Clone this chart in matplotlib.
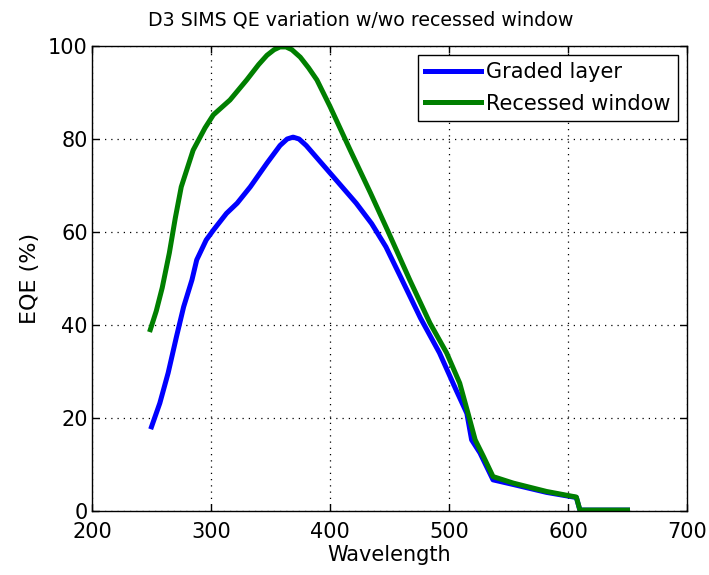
import matplotlib
matplotlib.use("Agg")
import matplotlib.pyplot as plt

plt.rcParams['font.family'] = ['DejaVu Sans']

# 読み取り値（波長 nm / EQE %）
graded_wl = [250, 257, 264, 271, 277, 284, 288, 296, 302, 313, 322, 333, 347, 358,
             364, 369, 374, 380, 400, 422, 435, 447, 459, 476, 492, 506, 515, 519,
             526, 537, 554, 582, 607, 610, 650]
graded_eqe = [18.1, 23.2, 29.7, 37.5, 43.9, 49.7, 54.0, 58.3, 60.4, 64.0, 66.2, 69.7,
              74.8, 78.6, 80.0, 80.4, 80.0, 78.6, 72.7, 66.2, 61.8, 56.8, 50.5, 41.5,
              34.0, 26.0, 21.0, 15.3, 12.5, 6.7, 5.7, 4.0, 2.9, 0.2, 0.2]

recessed_wl = [249, 254, 259, 265, 270, 275, 285, 295, 302, 316, 330, 340, 347, 353,
               358, 363, 368, 375, 382, 389, 400, 417, 434, 449, 467, 484, 498, 509,
               516, 522, 529, 537, 554, 582, 607, 610, 650]
recessed_eqe = [39.0, 43.0, 48.0, 55.5, 63.0, 69.7, 77.6, 82.4, 85.2, 88.4, 92.7, 96.0,
                98.0, 99.2, 99.8, 99.8, 99.2, 97.6, 95.3, 92.7, 87.0, 77.6, 68.4, 60.0,
                49.7, 40.4, 34.0, 27.5, 21.0, 15.3, 11.7, 7.4, 6.0, 4.2, 3.0, 0.2, 0.2]

x_ticks = [200, 300, 400, 500, 600, 700]
y_ticks = [0, 20, 40, 60, 80, 100]

fig = plt.figure(figsize=(7.09, 5.75), dpi=100)
fig.patch.set_facecolor('white')
ax = fig.add_axes([92 / 709, 1 - 511 / 575, 595 / 709, 465 / 575])

ax.plot(graded_wl, graded_eqe, color='#0000ff', linewidth=3.6, label='Graded layer')
ax.plot(recessed_wl, recessed_eqe, color='#007f00', linewidth=3.6, label='Recessed window')

ax.set_xlim(200, 700)
ax.set_ylim(0, 100)
ax.set_xticks(x_ticks)
ax.set_yticks(y_ticks)
ax.tick_params(direction='in', length=5, width=1, top=True, right=True,
               labelsize=15, pad=3)
ax.tick_params(axis='x', pad=8)
ax.grid(True, color='black', linestyle=(0, (1, 4)), linewidth=0.9)
for s in ax.spines.values():
    s.set_linewidth(1.0)

ax.set_xlabel('Wavelength', fontsize=15, labelpad=2)
ax.set_ylabel('EQE (%)', fontsize=16, labelpad=6)
ax.set_title('D3 SIMS QE variation w/wo recessed window', fontsize=13.7,
             x=(361 - 92) / 595, pad=15)

leg = ax.legend(loc='upper right', bbox_to_anchor=(0.985, 0.981), fontsize=15,
                fancybox=False, framealpha=1, edgecolor='black', borderpad=0.35,
                handlelength=2.7, handletextpad=0.25, labelspacing=0.55,
                borderaxespad=0)
leg.get_frame().set_linewidth(1.0)

fig.savefig('out.png', dpi=100, facecolor='white')
